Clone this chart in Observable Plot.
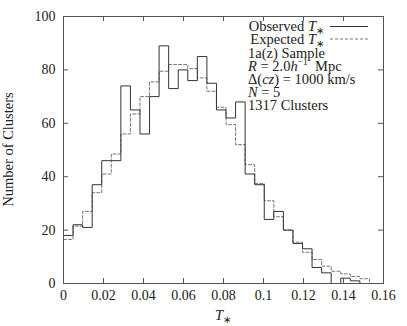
<!DOCTYPE html>
<html><head><meta charset="utf-8">
<script src="https://cdn.jsdelivr.net/npm/d3@7"></script>
<script src="https://cdn.jsdelivr.net/npm/@observablehq/plot@0.6"></script>
<style>body{margin:0;background:#fff;} svg{display:block}</style>
</head><body><div id="chart"></div>
<script>
// ---- data ----
const binWidth = 0.00478;
const observed = [18,22,21,37,46,46,74,65,56,70,89,73,80,76,85,75,65,62,68,41,37,24,27,20,15,13,6,4,0,2,1,0];
const expected = [16.5,21.5,27,34,41,48.5,56,63.5,70,75.5,79.5,82,82,80.5,77,72,66,59.5,52,44.5,37.5,31,25,20,15.5,11.7,9,6.5,4.6,3.6,2.6,1.8];
const xTicks = [0,0.02,0.04,0.06,0.08,0.1,0.12,0.14,0.16];
const xTickLabels = ["0","0.02","0.04","0.06","0.08","0.1","0.12","0.14","0.16"];
const yTicks = [0,20,40,60,80,100];
const yTickLabels = ["0","20","40","60","80","100"];
const seriesNames = ["Observed", "Expected"];
const infoLines = ["1a(z) Sample", "R = 2.0h-1 Mpc", "Δ(cz) = 1000 km/s", "N = 5", "1317 Clusters"];
const yTitle = "Number of Clusters";

// ---- layout ----
const W = 407, H = 326;
const mL = 63, mR = 24, mT = 16, mB = 43;
const frameW = W - mL - mR, frameH = H - mT - mB;
const tickLen = 5;
const FONT = "Liberation Serif";
const FS = 14.5;

function steps(vals) {
  const pts = vals.map((v, i) => ({x: i * binWidth, y: v}));
  pts.push({x: vals.length * binWidth, y: 0});
  return pts;
}

const plot = Plot.plot({
  width: W, height: H,
  marginLeft: mL, marginRight: mR, marginTop: mT, marginBottom: mB,
  x: {domain: [0, 0.16]},
  y: {domain: [0, 100]},
  style: {fontFamily: FONT, fontSize: "14px", color: "#222", background: "#fff"},
  marks: [
    Plot.line(steps(expected), {x: "x", y: "y", curve: "step-after", stroke: "#777", strokeWidth: 1, strokeDasharray: "3,2"}),
    Plot.line(steps(observed), {x: "x", y: "y", curve: "step-after", stroke: "#333", strokeWidth: 1}),
    Plot.frame({stroke: "#555", strokeWidth: 1}),
    Plot.tickX(xTicks, {x: d => d, insetTop: frameH - tickLen, stroke: "#555"}),
    Plot.tickX(xTicks, {x: d => d, insetBottom: frameH - tickLen, stroke: "#555"}),
    Plot.tickY(yTicks, {y: d => d, insetRight: frameW - tickLen, stroke: "#555"}),
    Plot.tickY(yTicks, {y: d => d, insetLeft: frameW - tickLen, stroke: "#555"}),
    Plot.axisX(xTicks, {tickSize: 0, tickPadding: 7, label: null, tickFormat: d => xTickLabels[xTicks.indexOf(d)]}),
    Plot.axisY(yTicks, {tickSize: 0, tickPadding: 8, label: null, tickFormat: d => yTickLabels[yTicks.indexOf(d)]})
  ]
});
document.getElementById("chart").appendChild(plot);

// ---- text with mixed styles (legend, titles) ----
const svg = d3.select(plot);
const g = svg.append("g").attr("font-family", FONT).attr("font-size", FS).attr("fill", "#222").attr("text-anchor", "start");
const sx = plot.scale("x");
const frameRight = W - mR;

function addTStar(t) {
  t.append("tspan").attr("font-style", "italic").text("T");
  t.append("tspan").attr("font-size", 9.5).attr("dy", 3).text("∗");
}

// key entries
const keyTextX = frameRight - 59, keyLineX1 = frameRight - 53, keyLineX2 = frameRight - 15;
const keyRows = [{name: seriesNames[0], base: 31, dash: null, stroke: "#333"},
                 {name: seriesNames[1], base: 43.5, dash: "3,2", stroke: "#777"}];
keyRows.forEach(r => {
  const t = g.append("text").attr("x", keyTextX).attr("y", r.base).attr("text-anchor", "end");
  t.append("tspan").text(r.name + " ");
  addTStar(t);
  const ln = g.append("line").attr("x1", keyLineX1).attr("x2", keyLineX2)
    .attr("y1", r.base - 4.5).attr("y2", r.base - 4.5)
    .attr("stroke", r.stroke).attr("stroke-width", 1);
  if (r.dash) ln.attr("stroke-dasharray", r.dash);
});

// info lines
const infoX = frameRight - 135;
const infoBase = [57.5, 71, 84, 96.5, 109.5];
g.append("text").attr("x", infoX).attr("y", infoBase[0]).text(infoLines[0]);
{
  const t = g.append("text").attr("x", infoX).attr("y", infoBase[1]);
  t.append("tspan").attr("font-style", "italic").text("R");
  t.append("tspan").text(" = 2.0");
  t.append("tspan").attr("font-style", "italic").text("h");
  t.append("tspan").attr("font-size", 9.5).attr("dy", -6).text("−1");
  t.append("tspan").attr("dy", 6).text("\u00a0\u00a0Mpc");
}
{
  const t = g.append("text").attr("x", infoX).attr("y", infoBase[2]);
  t.append("tspan").text("Δ(");
  t.append("tspan").attr("font-style", "italic").text("cz");
  t.append("tspan").text(") = 1000 km/s");
}
{
  const t = g.append("text").attr("x", infoX).attr("y", infoBase[3]);
  t.append("tspan").attr("font-style", "italic").text("N");
  t.append("tspan").text(" = 5");
}
g.append("text").attr("x", infoX).attr("y", infoBase[4]).text(infoLines[4]);

// x title
{
  const t = g.append("text").attr("x", sx.apply(0.08)).attr("y", 320).attr("text-anchor", "middle");
  addTStar(t);
}
// y title
g.append("text").attr("transform", `translate(13,${mT + frameH / 2}) rotate(-90)`)
  .attr("text-anchor", "middle").text(yTitle);
</script>
</body></html>
